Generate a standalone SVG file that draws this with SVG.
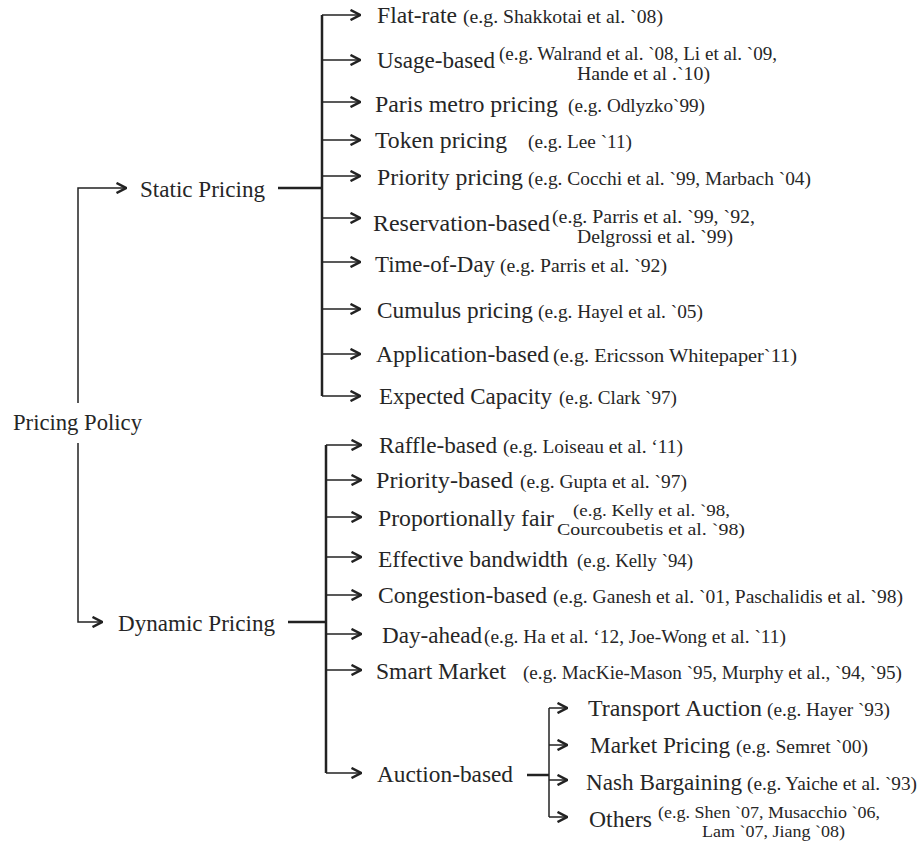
<svg xmlns="http://www.w3.org/2000/svg" width="920" height="846" viewBox="0 0 920 846">
<defs>
<marker id="chev" viewBox="0 0 12 12" refX="11" refY="6" markerWidth="12" markerHeight="12" markerUnits="userSpaceOnUse" orient="auto">
<path d="M1.5,1 L11,6 L1.5,11" fill="none" stroke="#222" stroke-width="2.5" stroke-linejoin="miter"/>
</marker>
<style>
.m{font-family:"Liberation Serif","Times New Roman",serif;font-size:24px;fill:#262626}
.c{font-family:"Liberation Serif","Times New Roman",serif;font-size:19.5px;fill:#262626}
.c2{font-family:"Liberation Serif","Times New Roman",serif;font-size:17px;fill:#262626}
.ln{fill:none;stroke:#222;stroke-width:1.5}
.tr{fill:none;stroke:#222;stroke-width:2.5}
.ar{fill:none;stroke:#222;stroke-width:1.5;marker-end:url(#chev)}
</style>
</defs>
<rect width="920" height="846" fill="#fff"/>
<g id="connectors">
<path class="ln" d="M78,403 V188 H126" marker-end="url(#chev)"/>
<path class="ln" d="M78,443 V622 H102" marker-end="url(#chev)"/>
<path class="tr" d="M278,188 H322"/>
<path class="tr" d="M322,15 V396"/>
<line class="ar" x1="322" y1="15" x2="360" y2="15"/>
<line class="ar" x1="322" y1="60" x2="360" y2="60"/>
<line class="ar" x1="322" y1="102" x2="360" y2="102"/>
<line class="ar" x1="322" y1="140" x2="360" y2="140"/>
<line class="ar" x1="322" y1="176" x2="360" y2="176"/>
<line class="ar" x1="322" y1="218" x2="360" y2="218"/>
<line class="ar" x1="322" y1="262" x2="360" y2="262"/>
<line class="ar" x1="322" y1="309" x2="360" y2="309"/>
<line class="ar" x1="322" y1="354" x2="360" y2="354"/>
<line class="ar" x1="322" y1="396" x2="360" y2="396"/>
<path class="tr" d="M288,622 H326"/>
<path class="tr" d="M326,445 V773"/>
<line class="ar" x1="326" y1="445" x2="361" y2="445"/>
<line class="ar" x1="326" y1="480" x2="361" y2="480"/>
<line class="ar" x1="326" y1="517" x2="361" y2="517"/>
<line class="ar" x1="326" y1="557" x2="361" y2="557"/>
<line class="ar" x1="326" y1="595" x2="361" y2="595"/>
<line class="ar" x1="326" y1="634" x2="361" y2="634"/>
<line class="ar" x1="326" y1="670" x2="361" y2="670"/>
<line class="ar" x1="326" y1="773" x2="361" y2="773"/>
<path class="tr" d="M527,775 H549"/>
<path class="ln" d="M549,708 V817"/>
<line class="ar" x1="549" y1="708" x2="567" y2="708"/>
<line class="ar" x1="549" y1="745" x2="567" y2="745"/>
<line class="ar" x1="549" y1="780" x2="567" y2="780"/>
<line class="ar" x1="549" y1="817" x2="567" y2="817"/>
</g>
<g id="pricing-policy"><text class="m" x="13" y="430" textLength="129" lengthAdjust="spacingAndGlyphs">Pricing Policy</text></g>
<g id="static-pricing"><text class="m" x="140" y="197" textLength="125" lengthAdjust="spacingAndGlyphs">Static Pricing</text></g>
<g id="dynamic-pricing"><text class="m" x="118" y="631" textLength="157" lengthAdjust="spacingAndGlyphs">Dynamic Pricing</text></g>
<g id="flat-rate"><text class="m" x="377" y="23" textLength="80" lengthAdjust="spacingAndGlyphs">Flat-rate</text><text class="c" x="463" y="23" textLength="200" lengthAdjust="spacingAndGlyphs">(e.g. Shakkotai et al. `08)</text></g>
<g id="usage-based"><text class="m" x="377" y="68" textLength="118" lengthAdjust="spacingAndGlyphs">Usage-based</text><text class="c" x="499" y="60" textLength="278" lengthAdjust="spacingAndGlyphs">(e.g. Walrand et al. `08, Li et al. `09,</text><text class="c" x="577" y="80" textLength="133" lengthAdjust="spacingAndGlyphs">Hande et al .`10)</text></g>
<g id="paris-metro"><text class="m" x="375" y="112" textLength="183" lengthAdjust="spacingAndGlyphs">Paris metro pricing</text><text class="c" x="568" y="112" textLength="137" lengthAdjust="spacingAndGlyphs">(e.g. Odlyzko`99)</text></g>
<g id="token"><text class="m" x="375" y="148" textLength="132" lengthAdjust="spacingAndGlyphs">Token pricing</text><text class="c" x="528" y="148" textLength="104" lengthAdjust="spacingAndGlyphs">(e.g. Lee `11)</text></g>
<g id="priority-pricing"><text class="m" x="377" y="185" textLength="146" lengthAdjust="spacingAndGlyphs">Priority pricing</text><text class="c" x="528" y="185" textLength="283" lengthAdjust="spacingAndGlyphs">(e.g. Cocchi et al. `99, Marbach `04)</text></g>
<g id="reservation"><text class="m" x="373" y="231" textLength="177" lengthAdjust="spacingAndGlyphs">Reservation-based</text><text class="c" x="552" y="223" textLength="203" lengthAdjust="spacingAndGlyphs">(e.g. Parris et al. `99, `92,</text><text class="c" x="577" y="243" textLength="156" lengthAdjust="spacingAndGlyphs">Delgrossi et al. `99)</text></g>
<g id="time-of-day"><text class="m" x="375" y="272" textLength="120" lengthAdjust="spacingAndGlyphs">Time-of-Day</text><text class="c" x="500" y="272" textLength="167" lengthAdjust="spacingAndGlyphs">(e.g. Parris et al. `92)</text></g>
<g id="cumulus"><text class="m" x="377" y="318" textLength="156" lengthAdjust="spacingAndGlyphs">Cumulus pricing</text><text class="c" x="538" y="318" textLength="165" lengthAdjust="spacingAndGlyphs">(e.g. Hayel et al. `05)</text></g>
<g id="application"><text class="m" x="376" y="362" textLength="173" lengthAdjust="spacingAndGlyphs">Application-based</text><text class="c" x="553" y="362" textLength="244" lengthAdjust="spacingAndGlyphs">(e.g. Ericsson Whitepaper`11)</text></g>
<g id="expected-capacity"><text class="m" x="379" y="404" textLength="173" lengthAdjust="spacingAndGlyphs">Expected Capacity</text><text class="c" x="559" y="404" textLength="118" lengthAdjust="spacingAndGlyphs">(e.g. Clark `97)</text></g>
<g id="raffle"><text class="m" x="379" y="453" textLength="118" lengthAdjust="spacingAndGlyphs">Raffle-based</text><text class="c" x="503" y="453" textLength="180" lengthAdjust="spacingAndGlyphs">(e.g. Loiseau et al. ‘11)</text></g>
<g id="priority-based"><text class="m" x="376" y="488" textLength="137" lengthAdjust="spacingAndGlyphs">Priority-based</text><text class="c" x="520" y="488" textLength="167" lengthAdjust="spacingAndGlyphs">(e.g. Gupta et al. `97)</text></g>
<g id="proportionally-fair"><text class="m" x="378" y="526" textLength="176" lengthAdjust="spacingAndGlyphs">Proportionally fair</text><text class="c2" x="573" y="516" textLength="157" lengthAdjust="spacingAndGlyphs">(e.g. Kelly et al. `98,</text><text class="c2" x="557" y="535" textLength="188" lengthAdjust="spacingAndGlyphs">Courcoubetis et al. `98)</text></g>
<g id="effective-bandwidth"><text class="m" x="378" y="567" textLength="190" lengthAdjust="spacingAndGlyphs">Effective bandwidth</text><text class="c" x="577" y="567" textLength="116" lengthAdjust="spacingAndGlyphs">(e.g. Kelly `94)</text></g>
<g id="congestion"><text class="m" x="378" y="603" textLength="169" lengthAdjust="spacingAndGlyphs">Congestion-based</text><text class="c" x="553" y="603" textLength="350" lengthAdjust="spacingAndGlyphs">(e.g. Ganesh et al. `01, Paschalidis et al. `98)</text></g>
<g id="day-ahead"><text class="m" x="382" y="643" textLength="100" lengthAdjust="spacingAndGlyphs">Day-ahead</text><text class="c" x="484" y="643" textLength="302" lengthAdjust="spacingAndGlyphs">(e.g. Ha et al. ‘12, Joe-Wong et al. `11)</text></g>
<g id="smart-market"><text class="m" x="376" y="679" textLength="130" lengthAdjust="spacingAndGlyphs">Smart Market</text><text class="c" x="523" y="679" textLength="379" lengthAdjust="spacingAndGlyphs">(e.g. MacKie-Mason `95, Murphy et al., `94, `95)</text></g>
<g id="auction-based"><text class="m" x="377" y="782" textLength="136" lengthAdjust="spacingAndGlyphs">Auction-based</text></g>
<g id="transport-auction"><text class="m" x="588" y="716" textLength="174" lengthAdjust="spacingAndGlyphs">Transport Auction</text><text class="c" x="767" y="716" textLength="123" lengthAdjust="spacingAndGlyphs">(e.g. Hayer `93)</text></g>
<g id="market-pricing"><text class="m" x="590" y="753" textLength="140" lengthAdjust="spacingAndGlyphs">Market Pricing</text><text class="c" x="736" y="753" textLength="132" lengthAdjust="spacingAndGlyphs">(e.g. Semret `00)</text></g>
<g id="nash-bargaining"><text class="m" x="586" y="790" textLength="156" lengthAdjust="spacingAndGlyphs">Nash Bargaining</text><text class="c" x="747" y="790" textLength="170" lengthAdjust="spacingAndGlyphs">(e.g. Yaiche et al. `93)</text></g>
<g id="others"><text class="m" x="589" y="827" textLength="63" lengthAdjust="spacingAndGlyphs">Others</text><text class="c2" x="658" y="818" textLength="222" lengthAdjust="spacingAndGlyphs">(e.g. Shen `07, Musacchio `06,</text><text class="c2" x="702" y="837" textLength="143" lengthAdjust="spacingAndGlyphs">Lam `07, Jiang `08)</text></g>
</svg>
